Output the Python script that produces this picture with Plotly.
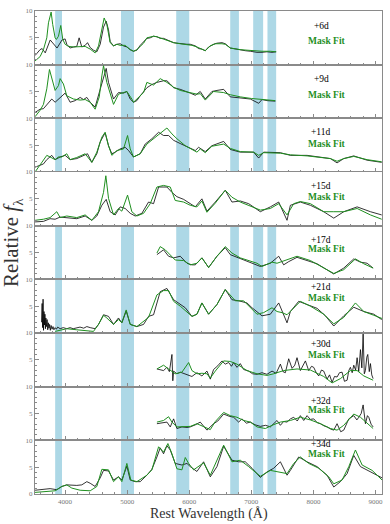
import plotly.graph_objects as go
from plotly.subplots import make_subplots

# ---------------- data ----------------
epochs = ["+6d", "+9d", "+11d", "+15d", "+17d", "+21d", "+30d", "+32d", "+34d"]

# +6d
obs6_w = [3516, 3597, 3630, 3680, 3760, 3810, 3870, 3950, 4000, 4027, 4081, 4135, 4188, 4226, 4269, 4323, 4361, 4404, 4457, 4511, 4565, 4619, 4662, 4699, 4726, 4780, 4834, 4887, 4941, 4995, 5049, 5102, 5156, 5210, 5264, 5317, 5371, 5425, 5479, 5532, 5586, 5640, 5694, 5748, 5801, 5855, 5909, 5963, 6016, 6097, 6150, 6204, 6258, 6312, 6392, 6446, 6527, 6580, 6661, 6742, 6822, 6903, 6984, 7091, 7172, 7252, 7333, 7400]
obs6_f = [1.7, 2.8, 3.0, 2.2, 4.6, 4.0, 3.1, 4.6, 4.8, 3.8, 3.1, 3.3, 3.4, 5.0, 3.3, 3.6, 4.1, 3.2, 2.7, 2.4, 3.8, 7.0, 8.1, 6.5, 4.3, 3.5, 3.8, 3.9, 3.5, 3.3, 2.8, 2.5, 2.7, 3.6, 4.3, 4.9, 5.0, 5.3, 5.2, 4.9, 4.9, 4.6, 4.4, 4.1, 4.0, 3.9, 3.9, 3.8, 3.8, 3.5, 3.0, 2.9, 2.6, 3.3, 3.8, 4.0, 4.1, 3.9, 3.1, 2.9, 2.7, 2.6, 2.5, 2.3, 2.3, 2.4, 2.3, 2.4]
fit6_w = [3516, 3597, 3651, 3705, 3732, 3760, 3775, 3800, 3839, 3860, 3893, 3930, 3963, 4000, 4054, 4135, 4242, 4323, 4404, 4484, 4538, 4592, 4629, 4672, 4726, 4780, 4834, 4887, 4968, 5049, 5102, 5156, 5264, 5317, 5425, 5479, 5586, 5640, 5748, 5855, 5963, 6043, 6124, 6204, 6258, 6339, 6419, 6527, 6580, 6661, 6742, 6822, 6930, 7037, 7172, 7306, 7400]
fit6_f = [0.7, 1.5, 2.8, 5.0, 7.8, 9.5, 9.8, 7.5, 5.0, 4.7, 5.3, 7.3, 4.7, 3.8, 3.4, 3.3, 3.3, 3.4, 2.9, 2.2, 3.5, 7.0, 8.7, 7.5, 4.1, 3.5, 3.8, 3.6, 3.6, 2.8, 2.5, 2.8, 4.0, 5.0, 5.3, 5.2, 4.8, 4.6, 4.1, 3.9, 3.8, 3.6, 3.3, 2.8, 2.6, 3.5, 3.9, 3.9, 3.8, 3.1, 2.9, 2.8, 2.7, 2.6, 2.5, 2.5, 2.4]

# +9d
obs9_w = [3516, 3597, 3651, 3705, 3785, 3839, 3920, 4000, 4054, 4081, 4162, 4242, 4296, 4350, 4404, 4484, 4565, 4629, 4662, 4699, 4780, 4860, 4941, 4995, 5049, 5102, 5156, 5210, 5317, 5398, 5479, 5586, 5640, 5694, 5748, 5855, 5909, 6016, 6097, 6177, 6258, 6365, 6446, 6554, 6661, 6822, 6984, 7118, 7172, 7252, 7387]
obs9_f = [1.1, 1.7, 1.8, 2.6, 3.6, 3.0, 3.9, 4.7, 3.6, 3.0, 3.3, 3.9, 3.5, 3.9, 3.0, 2.1, 5.4, 8.0, 9.3, 6.7, 3.6, 4.8, 4.7, 5.0, 3.6, 3.0, 3.3, 4.2, 5.7, 6.3, 6.7, 7.0, 7.0, 6.4, 5.7, 5.4, 5.2, 4.7, 4.3, 5.0, 3.6, 5.0, 5.2, 5.4, 4.0, 3.8, 3.6, 2.8, 3.5, 3.3, 3.2]
fit9_w = [3516, 3597, 3651, 3705, 3748, 3785, 3839, 3893, 3920, 3973, 4027, 4135, 4242, 4323, 4404, 4484, 4550, 4592, 4619, 4672, 4780, 4860, 4941, 4995, 5075, 5102, 5264, 5317, 5425, 5532, 5640, 5748, 5855, 6016, 6124, 6178, 6258, 6392, 6554, 6661, 6822, 7000, 7172, 7387]
fit9_f = [0.3, 1.5, 2.6, 5.5, 9.1, 7.4, 5.2, 6.1, 7.4, 6.4, 4.2, 3.6, 3.4, 3.5, 3.0, 1.7, 4.0, 7.9, 9.8, 6.7, 2.6, 4.5, 4.8, 5.0, 3.6, 3.0, 4.8, 6.7, 6.2, 7.4, 6.7, 5.8, 5.2, 4.8, 4.5, 4.6, 3.4, 5.0, 4.8, 4.4, 4.0, 3.7, 3.5, 3.3]

# +11d
obs11_w = [3516, 3651, 3705, 3785, 3839, 3920, 4000, 4081, 4188, 4296, 4361, 4430, 4511, 4565, 4645, 4699, 4753, 4807, 4887, 4968, 5022, 5102, 5210, 5290, 5398, 5506, 5586, 5667, 5748, 5855, 5936, 6016, 6097, 6150, 6258, 6365, 6554, 6661, 6822, 7037, 7118, 7199, 7468, 7629, 7898, 8274, 8381, 8489, 8650, 8865, 9100]
obs11_f = [0.9, 1.5, 2.3, 3.1, 2.3, 2.8, 3.1, 2.3, 2.5, 3.1, 3.4, 1.8, 3.4, 5.6, 7.3, 4.9, 3.4, 3.7, 4.3, 4.6, 4.0, 2.8, 3.4, 5.2, 6.2, 7.4, 6.8, 6.8, 5.9, 5.3, 4.9, 4.4, 4.0, 4.6, 3.8, 4.9, 5.7, 4.2, 3.7, 3.7, 2.6, 3.7, 3.6, 3.1, 3.1, 2.5, 1.7, 2.5, 3.0, 2.2, 1.8]
fit11_w = [3516, 3624, 3705, 3758, 3839, 3893, 3947, 4027, 4081, 4188, 4323, 4430, 4511, 4592, 4645, 4699, 4753, 4834, 4941, 5006, 5049, 5102, 5210, 5317, 5425, 5532, 5640, 5721, 5801, 5936, 6043, 6124, 6178, 6258, 6365, 6554, 6661, 6822, 7037, 7118, 7199, 7468, 7629, 7898, 8274, 8381, 8489, 8650, 8865, 9100]
fit11_f = [0.0, 1.8, 3.1, 2.8, 2.3, 2.8, 2.8, 3.4, 2.3, 2.7, 3.4, 1.8, 3.7, 6.5, 7.4, 4.9, 3.1, 4.0, 4.3, 6.8, 4.3, 2.8, 3.4, 5.2, 6.2, 7.1, 8.2, 7.1, 6.2, 4.9, 4.3, 3.7, 4.3, 3.6, 4.8, 5.2, 4.4, 3.8, 3.7, 3.1, 3.6, 3.5, 3.2, 3.0, 2.5, 2.0, 2.5, 2.9, 2.3, 1.9]

# +15d
obs15_w = [3516, 3651, 3758, 3839, 3920, 4027, 4188, 4323, 4430, 4511, 4592, 4662, 4726, 4807, 4887, 4968, 5049, 5129, 5237, 5344, 5425, 5506, 5640, 5721, 5801, 5909, 6016, 6097, 6204, 6285, 6419, 6580, 6688, 6822, 6957, 7145, 7306, 7441, 7575, 7629, 7790, 7951, 8166, 8328, 8489, 8704, 8919, 9100]
obs15_f = [0.7, 0.8, 1.3, 1.2, 1.6, 1.5, 1.3, 1.8, 1.0, 1.8, 3.8, 4.9, 2.6, 2.0, 3.5, 3.2, 2.3, 1.8, 2.3, 4.4, 4.1, 7.2, 7.2, 6.2, 5.4, 4.9, 4.1, 3.5, 5.0, 2.7, 4.4, 6.6, 4.4, 4.6, 4.1, 2.6, 3.5, 4.4, 1.0, 3.8, 4.4, 3.8, 2.6, 1.4, 2.6, 3.5, 2.6, 2.0]
fit15_w = [3516, 3651, 3758, 3866, 3920, 4027, 4188, 4323, 4430, 4538, 4619, 4656, 4699, 4780, 4860, 4914, 5006, 5075, 5156, 5264, 5371, 5479, 5586, 5694, 5774, 5909, 6016, 6124, 6204, 6285, 6419, 6580, 6688, 6822, 7145, 7306, 7441, 7575, 7683, 7790, 7951, 8166, 8328, 8489, 8704, 8919, 9100]
fit15_f = [1.0, 1.2, 1.5, 2.6, 1.5, 1.8, 1.5, 2.0, 1.0, 2.6, 6.2, 9.3, 5.1, 2.0, 3.2, 2.7, 5.7, 2.6, 1.8, 2.3, 4.1, 7.2, 7.5, 7.2, 4.7, 4.4, 3.8, 3.5, 4.6, 2.5, 4.2, 6.6, 5.3, 4.4, 2.9, 3.2, 4.1, 2.0, 4.1, 4.5, 4.1, 2.6, 2.6, 2.6, 3.2, 2.0, 1.2]

# +17d
obs17_w = [5479, 5586, 5667, 5748, 5855, 5963, 6043, 6097, 6204, 6312, 6446, 6580, 6661, 6769, 6930, 7145, 7306, 7441, 7521, 7602, 7736, 7898, 8059, 8328, 8489, 8650, 8758, 8865, 8962]
obs17_f = [4.6, 5.5, 4.3, 4.0, 4.3, 3.0, 2.7, 2.7, 4.0, 2.2, 4.3, 5.9, 4.6, 4.1, 3.3, 2.4, 3.0, 4.3, 2.7, 3.3, 4.1, 3.5, 2.9, 1.0, 2.1, 3.8, 3.2, 3.0, 2.1]
fit17_w = [5479, 5532, 5613, 5694, 5774, 5909, 6016, 6124, 6204, 6312, 6446, 6580, 6688, 6822, 7091, 7172, 7333, 7414, 7736, 7951, 8166, 8328, 8489, 8677, 8812, 8962]
fit17_f = [4.9, 6.1, 5.5, 4.6, 3.6, 3.5, 2.7, 3.0, 4.0, 2.2, 4.3, 6.1, 4.9, 4.0, 3.0, 2.4, 3.2, 3.0, 4.3, 3.5, 2.1, 1.1, 1.8, 3.8, 2.9, 2.1]

# +21d
obs21_w = [3620, 3630, 3638, 3645, 3652, 3660, 3668, 3675, 3683, 3690, 3700, 3710, 3720, 3730, 3740, 3750, 3762, 3775, 3790, 3805, 3820, 3840, 3860, 3880, 3920, 3970, 4027, 4080, 4130, 4188, 4240, 4300, 4350, 4404, 4484, 4538, 4619, 4699, 4780, 4860, 4914, 4984, 5049, 5156, 5264, 5344, 5425, 5532, 5640, 5748, 5828, 5936, 6043, 6124, 6204, 6312, 6446, 6580, 6688, 6796, 6930, 7011, 7172, 7306, 7441, 7521, 7575, 7629, 7763, 7898, 8059, 8193, 8328, 8489, 8650, 8812, 8973, 9100]
obs21_f = [2.0, 5.5, 1.0, 6.3, 0.5, 4.0, 1.5, 3.5, 0.8, 2.8, 1.2, 2.5, 0.6, 1.9, 0.9, 1.6, 0.5, 1.4, 0.7, 1.2, 0.6, 1.0, 0.7, 1.1, 0.8, 1.0, 0.8, 1.0, 0.8, 0.9, 1.1, 0.9, 1.2, 1.0, 0.8, 1.6, 3.4, 3.1, 1.6, 2.8, 1.9, 4.1, 1.6, 1.2, 1.6, 3.1, 3.4, 7.7, 8.3, 6.2, 5.6, 4.7, 3.1, 3.5, 5.6, 3.5, 5.3, 8.1, 6.2, 6.0, 5.6, 4.7, 3.2, 3.5, 5.6, 3.2, 1.9, 4.0, 5.9, 5.3, 4.6, 3.2, 1.3, 3.2, 4.8, 4.0, 3.5, 2.5]
fit21_w = [3840, 3920, 4027, 4188, 4350, 4457, 4538, 4619, 4672, 4780, 4860, 4914, 4984, 5049, 5156, 5344, 5479, 5586, 5667, 5748, 5855, 5963, 6043, 6124, 6204, 6312, 6446, 6580, 6742, 6876, 7091, 7199, 7333, 7414, 7494, 7575, 7683, 7790, 7951, 8166, 8328, 8489, 8677, 8812, 8973, 9107]
fit21_f = [0.3, 0.5, 0.8, 0.6, 0.5, 0.3, 1.6, 3.3, 2.8, 1.6, 2.5, 1.9, 4.3, 1.6, 1.2, 2.9, 7.1, 7.9, 7.9, 5.9, 5.0, 4.0, 3.1, 3.5, 5.6, 3.5, 5.3, 8.1, 6.0, 6.0, 3.5, 3.8, 4.7, 4.0, 3.8, 3.4, 4.6, 5.9, 5.0, 3.5, 1.7, 2.9, 5.6, 4.0, 3.3, 2.7]

# +30d
obs30_w = [5479, 5532, 5586, 5640, 5680, 5721, 5735, 5748, 5801, 5855, 5936, 6016, 6043, 6124, 6204, 6285, 6339, 6392, 6460, 6527, 6580, 6634, 6680, 6715, 6769, 6822, 6876, 6957, 7020, 7091, 7172, 7252, 7333, 7400, 7468, 7510, 7548, 7602, 7656, 7700, 7736, 7790, 7830, 7871, 7924, 7970, 8005, 8050, 8086, 8130, 8166, 8220, 8260, 8301, 8340, 8381, 8420, 8462, 8500, 8543, 8570, 8596, 8625, 8650, 8680, 8704, 8730, 8758, 8780, 8801, 8820, 8838, 8860, 8876, 8900, 8919, 8940, 8962]
obs30_f = [3.3, 3.1, 3.0, 3.6, 2.8, 6.0, 1.1, 2.9, 2.4, 2.7, 2.4, 2.0, 1.9, 2.6, 2.0, 2.9, 1.4, 3.2, 3.9, 4.8, 4.2, 4.5, 3.8, 4.5, 3.6, 4.3, 3.2, 2.9, 2.4, 2.3, 2.6, 2.3, 2.9, 2.5, 4.2, 2.8, 2.6, 5.2, 3.4, 4.0, 5.4, 3.0, 3.9, 4.8, 3.0, 3.8, 3.6, 2.5, 2.0, 3.1, 2.9, 1.4, 2.2, 0.8, 1.9, 1.8, 2.6, 2.7, 1.0, 1.2, 3.0, 3.6, 2.6, 4.0, 3.1, 5.4, 2.8, 6.9, 3.5, 9.8, 2.4, 3.0, 5.5, 6.0, 2.8, 4.3, 2.2, 1.5]
fit30_w = [5479, 5586, 5667, 5774, 5882, 5990, 6043, 6124, 6204, 6285, 6339, 6419, 6554, 6661, 6769, 6930, 7091, 7252, 7360, 7521, 7736, 7951, 8059, 8166, 8301, 8435, 8596, 8704, 8812, 8962]
fit30_f = [3.3, 4.0, 3.3, 2.4, 2.7, 4.5, 3.0, 2.4, 2.5, 2.4, 1.6, 2.9, 4.8, 4.7, 4.2, 3.0, 2.4, 2.1, 2.4, 3.0, 3.3, 3.1, 2.5, 1.9, 0.7, 1.5, 3.0, 3.0, 2.0, 1.2]

# +32d
obs32_w = [5479, 5586, 5640, 5694, 5748, 5801, 5882, 5963, 6016, 6100, 6177, 6285, 6392, 6460, 6554, 6640, 6715, 6796, 6849, 6920, 6984, 7060, 7145, 7230, 7306, 7414, 7468, 7520, 7575, 7630, 7683, 7740, 7790, 7844, 7898, 7950, 8005, 8060, 8113, 8170, 8220, 8280, 8328, 8381, 8440, 8489, 8570, 8650, 8700, 8731, 8770, 8801, 8838, 8870, 8892, 8930, 8962]
obs32_f = [3.1, 3.3, 3.4, 2.5, 4.0, 2.2, 2.5, 2.4, 2.5, 2.9, 3.4, 1.9, 3.1, 3.6, 4.9, 4.5, 4.3, 3.4, 4.0, 3.2, 3.4, 2.9, 2.6, 2.8, 2.5, 3.7, 2.8, 3.5, 3.4, 4.0, 4.3, 3.6, 4.6, 3.7, 4.6, 3.9, 4.0, 3.3, 3.1, 2.7, 2.5, 2.1, 1.9, 3.1, 1.6, 1.9, 4.0, 4.6, 3.8, 4.3, 5.0, 6.6, 3.1, 4.6, 4.3, 3.0, 2.5]
fit32_w = [5479, 5586, 5667, 5721, 5801, 5909, 6016, 6124, 6231, 6339, 6419, 6554, 6661, 6769, 6876, 6984, 7091, 7226, 7333, 7468, 7629, 7790, 7951, 8113, 8274, 8381, 8489, 8650, 8758, 8865, 8962]
fit32_f = [3.4, 3.7, 4.4, 3.4, 2.5, 2.6, 2.6, 3.1, 2.5, 2.0, 3.5, 5.2, 4.6, 4.3, 3.7, 3.4, 2.5, 2.2, 2.8, 3.4, 3.7, 4.3, 3.8, 3.1, 2.2, 1.9, 2.8, 4.9, 4.3, 3.1, 2.2]

# +34d
obs34_w = [3516, 3651, 3758, 3866, 3947, 4027, 4188, 4269, 4350, 4404, 4484, 4565, 4619, 4699, 4780, 4860, 4914, 4995, 5049, 5129, 5210, 5317, 5398, 5479, 5532, 5586, 5640, 5694, 5774, 5882, 5963, 6016, 6124, 6231, 6339, 6446, 6554, 6688, 6796, 6903, 7011, 7145, 7252, 7360, 7468, 7575, 7629, 7763, 7898, 8059, 8220, 8328, 8435, 8543, 8650, 8758, 8919, 9107]
obs34_f = [0.7, 0.8, 1.0, 0.8, 1.4, 1.7, 1.6, 1.7, 2.3, 2.0, 1.4, 3.0, 4.4, 4.3, 2.6, 3.2, 2.6, 5.2, 2.6, 2.3, 2.3, 3.5, 4.6, 6.9, 8.6, 7.5, 9.0, 8.2, 5.7, 5.4, 5.7, 5.1, 4.2, 6.0, 3.2, 5.1, 8.9, 6.3, 6.0, 6.0, 4.8, 3.1, 4.1, 4.8, 6.0, 3.5, 4.4, 6.9, 6.0, 5.1, 3.5, 1.3, 2.3, 3.8, 7.2, 5.1, 4.2, 3.0]
fit34_w = [3516, 3705, 3839, 3947, 4027, 4108, 4242, 4404, 4511, 4592, 4699, 4780, 4860, 4914, 4995, 5059, 5156, 5317, 5398, 5506, 5586, 5656, 5721, 5801, 5882, 5936, 5990, 6070, 6231, 6339, 6554, 6688, 6822, 6957, 7145, 7306, 7441, 7575, 7683, 7790, 7924, 8086, 8247, 8328, 8462, 8570, 8677, 8785, 8946, 9107]
fit34_f = [0.3, 0.4, 0.6, 1.4, 1.7, 1.1, 0.7, 0.6, 1.4, 4.6, 4.5, 2.3, 3.2, 2.3, 5.7, 2.6, 2.3, 3.5, 4.5, 8.8, 7.8, 9.4, 7.5, 4.7, 4.5, 6.8, 5.7, 4.5, 5.8, 3.5, 9.1, 6.0, 6.3, 5.1, 3.3, 4.4, 4.1, 3.8, 5.7, 6.9, 5.7, 4.8, 3.2, 1.9, 2.6, 5.1, 8.2, 5.4, 4.4, 2.6]

observed = [(obs6_w, obs6_f), (obs9_w, obs9_f), (obs11_w, obs11_f), (obs15_w, obs15_f),
            (obs17_w, obs17_f), (obs21_w, obs21_f), (obs30_w, obs30_f), (obs32_w, obs32_f),
            (obs34_w, obs34_f)]
fits = [(fit6_w, fit6_f), (fit9_w, fit9_f), (fit11_w, fit11_f), (fit15_w, fit15_f),
        (fit17_w, fit17_f), (fit21_w, fit21_f), (fit30_w, fit30_f), (fit32_w, fit32_f),
        (fit34_w, fit34_f)]

band_lo = [3840, 4900, 5790, 6660, 7030, 7260]
band_hi = [3950, 5110, 6000, 6800, 7190, 7400]

label_y_epoch = [7.2, 7.4, 7.4, 7.4, 7.4, 8.5, 8.0, 7.4, 9.3]
label_y_fit = [4.4, 4.4, 5.2, 5.4, 5.6, 6.6, 5.9, 5.6, 7.4]

x_ticks = [4000, 5000, 6000, 7000, 8000, 9000]

# ---------------- figure ----------------
n = len(epochs)
fig = make_subplots(rows=n, cols=1, shared_xaxes=True, vertical_spacing=0)

SERIF = "Liberation Serif"
GREEN = "#1f8f1f"
AXC = "#8a8a8a"

for i in range(n):
    ow, of = observed[i]
    fw, ff = fits[i]
    fig.add_trace(go.Scatter(x=ow, y=of, mode="lines", line=dict(color="black", width=0.8),
                             showlegend=False, hoverinfo="skip"), row=i + 1, col=1)
    fig.add_trace(go.Scatter(x=fw, y=ff, mode="lines", line=dict(color=GREEN, width=1.0),
                             showlegend=False, hoverinfo="skip"), row=i + 1, col=1)
    yv = [0, 5, 10] if i == n - 1 else [5, 10]
    fig.update_yaxes(row=i + 1, col=1, range=[0, 10], tickvals=yv, ticktext=[str(v) for v in yv],
                     ticks="inside", ticklen=4, tickcolor=AXC,
                     minor=dict(dtick=1, ticks="inside", ticklen=2, tickcolor=AXC),
                     showline=True, linecolor=AXC, linewidth=1, mirror=True,
                     showgrid=False, zeroline=False,
                     tickfont=dict(family=SERIF, size=7, color="#777"))
    fig.update_xaxes(row=i + 1, col=1, range=[3515, 9105], tickvals=x_ticks,
                     ticks="inside", ticklen=4, tickcolor=AXC,
                     minor=dict(dtick=200, ticks="inside", ticklen=2, tickcolor=AXC),
                     showline=True, linecolor=AXC, linewidth=1.2, mirror=True,
                     showgrid=False, zeroline=False,
                     showticklabels=(i == n - 1),
                     tickfont=dict(family=SERIF, size=7, color="#777"))
    xref = "x" if i == 0 else f"x{i + 1}"
    yref = "y" if i == 0 else f"y{i + 1}"
    fig.add_annotation(x=8130, y=label_y_epoch[i], xref=xref, yref=yref, text=epochs[i],
                       showarrow=False, font=dict(family=SERIF, size=9.5, color="black"))
    fig.add_annotation(x=8225, y=label_y_fit[i], xref=xref, yref=yref, text="<b>Mask Fit</b>",
                       showarrow=False, font=dict(family=SERIF, size=9.5, color=GREEN))

for lo, hi in zip(band_lo, band_hi):
    fig.add_shape(type="rect", xref="x", yref="paper", x0=lo, x1=hi, y0=0, y1=1,
                  fillcolor="#ADD8E6", line=dict(width=0), layer="below")

fig.add_annotation(x=0.5, y=-0.021, xref="paper", yref="paper", yanchor="top",
                   text="Rest Wavelength (Å)", showarrow=False,
                   font=dict(family=SERIF, size=14, color="#333"))
fig.add_annotation(x=-0.066, y=0.52, xref="paper", yref="paper", xanchor="center",
                   yanchor="middle", textangle=-90,
                   text="Relative <i>f</i><sub>λ</sub>", showarrow=False,
                   font=dict(family=SERIF, size=21, color="#333"))

fig.update_layout(width=390, height=524, margin=dict(l=35, r=7, t=8, b=30),
                  plot_bgcolor="white", paper_bgcolor="white")

fig.write_html("out.html", config={"displayModeBar": False},
               post_script="document.body.style.margin='0px';")
